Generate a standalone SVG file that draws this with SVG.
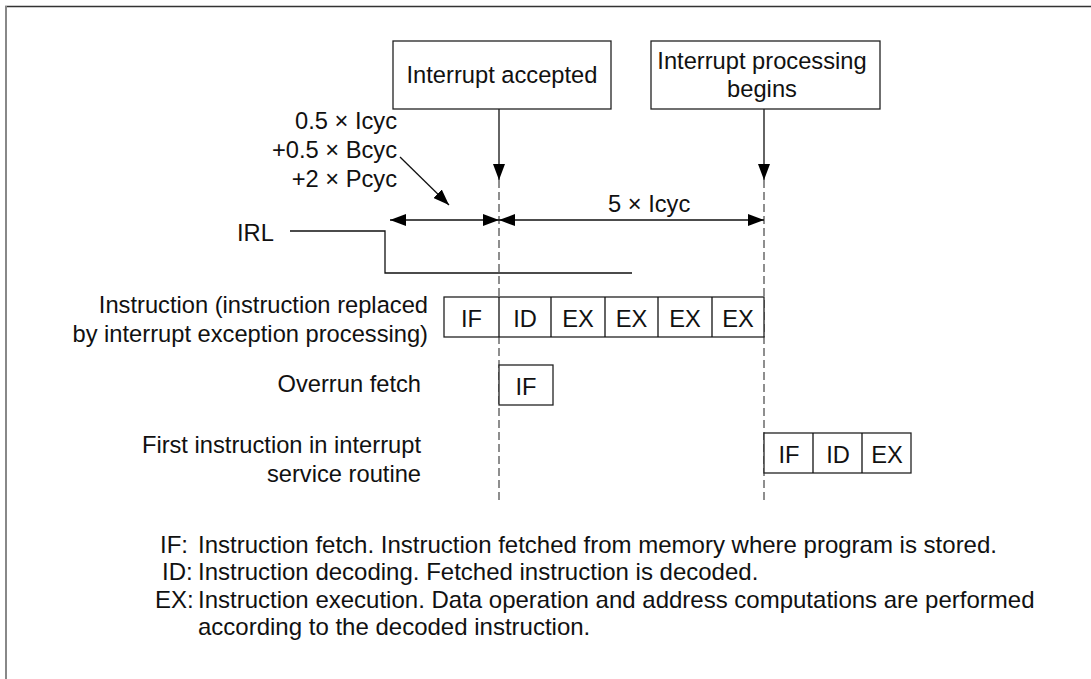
<svg xmlns="http://www.w3.org/2000/svg" width="1091" height="679" viewBox="0 0 1091 679">
<defs>
<marker id="ah" viewBox="0 0 16 12" refX="16" refY="6" markerWidth="16" markerHeight="12" markerUnits="userSpaceOnUse" orient="auto-start-reverse">
<path d="M0,0 L16,6 L0,12 Z" fill="#000"/>
</marker>
<style>
.t{font-family:"Liberation Sans",Arial,sans-serif;font-size:23.7px;fill:#111}
.s{font-family:"Liberation Sans",Arial,sans-serif;font-size:24px;fill:#111}
.m{text-anchor:middle}
.e{text-anchor:end}
.box{fill:#fff;stroke:#222;stroke-width:1.3}
.ln{fill:none;stroke:#111;stroke-width:1.3}
.dash{fill:none;stroke:#444;stroke-width:1.2;stroke-dasharray:8 4}
</style>
</defs>
<rect width="1091" height="679" fill="#fff"/>
<g id="frame">
<line x1="5" y1="6.5" x2="1091" y2="6.5" stroke="#333" stroke-width="1.5"/>
<line x1="6" y1="6" x2="6" y2="679" stroke="#888" stroke-width="2"/>
</g>
<g id="connectors">
<line class="dash" x1="499" y1="180" x2="499" y2="502"/>
<line class="dash" x1="764" y1="180" x2="764" y2="502"/>
<line class="ln" x1="499" y1="109" x2="499" y2="180" marker-end="url(#ah)"/>
<line class="ln" x1="764" y1="109" x2="764" y2="180" marker-end="url(#ah)"/>
<line class="ln" x1="390" y1="220" x2="499" y2="220" marker-start="url(#ah)" marker-end="url(#ah)"/>
<line class="ln" x1="499" y1="220" x2="764" y2="220" marker-start="url(#ah)" marker-end="url(#ah)"/>
<line class="ln" x1="400" y1="157" x2="449" y2="205" marker-end="url(#ah)"/>
<polyline id="irl-signal" class="ln" points="290,231 385,231 385,273 632,273"/>
</g>
<g id="node-accepted">
<rect class="box" x="393" y="41" width="218" height="68"/>
<text class="t m" x="502" y="83">Interrupt accepted</text>
</g>
<g id="node-begins">
<rect class="box" x="651" y="41" width="229" height="68"/>
<text class="t m" x="762" y="69">Interrupt processing</text>
<text class="t m" x="762" y="97">begins</text>
</g>
<g id="label-delay">
<text class="t e" x="397" y="129">0.5 × Icyc</text>
<text class="t e" x="397" y="158">+0.5 × Bcyc</text>
<text class="t e" x="397" y="187">+2 × Pcyc</text>
</g>
<g id="label-5icyc">
<text class="t" x="608" y="212">5 × Icyc</text>
</g>
<g id="label-irl">
<text class="t" x="237" y="241">IRL</text>
</g>
<g id="row-instruction">
<text class="t e" x="428" y="313">Instruction (instruction replaced</text>
<text class="t e" x="428" y="342">by interrupt exception processing)</text>
<rect class="box" x="444" y="297" width="320" height="40"/>
<line class="ln" x1="499" y1="297" x2="499" y2="337"/>
<line class="ln" x1="551" y1="297" x2="551" y2="337"/>
<line class="ln" x1="605" y1="297" x2="605" y2="337"/>
<line class="ln" x1="658" y1="297" x2="658" y2="337"/>
<line class="ln" x1="712" y1="297" x2="712" y2="337"/>
<text class="t m" x="471.5" y="327">IF</text>
<text class="t m" x="525" y="327">ID</text>
<text class="t m" x="578" y="327">EX</text>
<text class="t m" x="631.5" y="327">EX</text>
<text class="t m" x="685" y="327">EX</text>
<text class="t m" x="738" y="327">EX</text>
</g>
<g id="row-overrun">
<text class="t e" x="421" y="392">Overrun fetch</text>
<rect class="box" x="499" y="365" width="54" height="40"/>
<text class="t m" x="526" y="395">IF</text>
</g>
<g id="row-first">
<text class="t e" x="421" y="453">First instruction in interrupt</text>
<text class="t e" x="421" y="482">service routine</text>
<rect class="box" x="764" y="433" width="147" height="40"/>
<line class="ln" x1="813" y1="433" x2="813" y2="473"/>
<line class="ln" x1="862" y1="433" x2="862" y2="473"/>
<text class="t m" x="789" y="463">IF</text>
<text class="t m" x="838" y="463">ID</text>
<text class="t m" x="887" y="463">EX</text>
</g>
<g id="legend">
<text class="s" x="160" y="553">IF:</text>
<text class="s" x="198" y="553">Instruction fetch. Instruction fetched from memory where program is stored.</text>
<text class="s" x="162" y="580">ID:</text>
<text class="s" x="198" y="580">Instruction decoding. Fetched instruction is decoded.</text>
<text class="s" x="155" y="608">EX:</text>
<text class="s" x="198" y="608">Instruction execution. Data operation and address computations are performed</text>
<text class="s" x="198" y="635">according to the decoded instruction.</text>
</g>
</svg>
